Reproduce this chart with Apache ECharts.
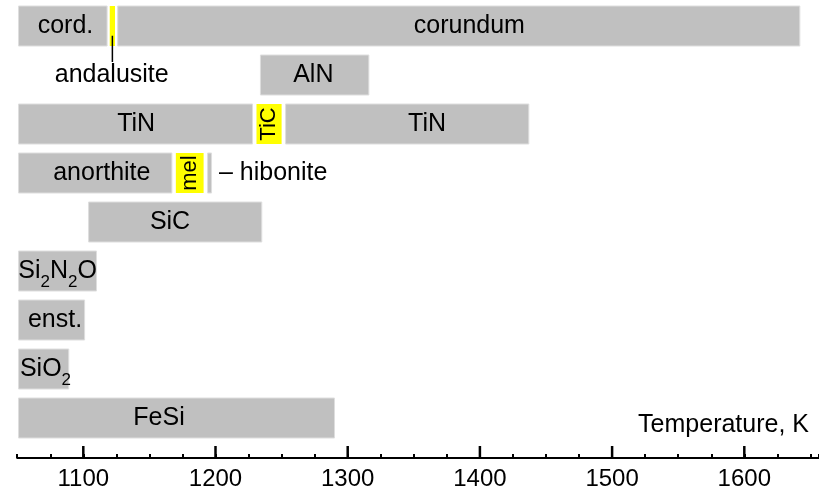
<!DOCTYPE html>
<html>
<head>
<meta charset="utf-8">
<script src="https://cdn.jsdelivr.net/npm/echarts@6/dist/echarts.min.js"></script>
<style>
  html, body { margin: 0; padding: 0; background: #fff; }
  #chart { width: 819px; height: 499px; }
</style>
</head>
<body>
<div id="chart"></div>
<script>
// Temperature ranges (K) over which each phase is stable, by row from the top
const phaseNames = ['cord.', 'andalusite', 'corundum', 'AlN', 'TiN', 'TiC', 'TiN', 'anorthite', 'mel', 'hibonite', 'SiC', 'Si2N2O', 'enst.', 'SiO2', 'FeSi'];
const phaseRows  = [0, 0, 0, 1, 2, 2, 2, 3, 3, 3, 4, 5, 6, 7, 8];
const phaseFrom  = [1051, 1120, 1126, 1234, 1051, 1231, 1253, 1051, 1170, 1194, 1104, 1051, 1051, 1051, 1051];
const phaseTo    = [1118, 1124, 1642, 1316, 1228, 1250, 1437, 1167, 1191, 1197, 1235, 1110, 1101, 1089, 1290];
// Phases drawn as narrow highlighted stripes
const accentPhases = ['andalusite', 'TiC', 'mel'];

// Text annotations: text, row, and the temperature they sit at
const noteTexts = ['cord.', 'corundum', 'andalusite', 'AlN', 'TiN', 'TiC', 'TiN', 'anorthite', 'mel', '– hibonite', 'SiC', 'Si2N2O', 'enst.', 'SiO2', 'FeSi'];
const noteRows  = [0, 0, 1, 1, 2, 2, 2, 3, 3, 3, 4, 5, 6, 7, 8];
const noteTemps = [1086.5, 1392, 1121.5, 1274, 1140, 1240.6, 1360, 1114, 1180.3, 1202.6, 1165.6, 1080.5, 1078.6, 1071.4, 1157.3];
const verticalNotes = ['TiC', 'mel'];
const trailingNotes = ['– hibonite'];

// Leader from the andalusite stripe down to its label: [temperature, row]
const leaderLine = [[1122, 0.2], [1122, 0.735]];

// Axis: full range, minor step, and the labelled major ticks
const tempMin = 1050, tempMax = 1656.5;
const minorStep = 25;
const tickLabels = [1100, 1200, 1300, 1400, 1500, 1600];
const axisTitle = 'Temperature, K';

const FONT = "'Liberation Sans', Arial, Helvetica, sans-serif";
const GRAY = '#c0c0c0';
const YELLOW = '#ffff00';
const INK = '#000';

// Vertical layout: 49 px per row, bars 40 px tall, axis line a little below the last row
const rowPx = 49, barPx = 40, axisGapPx = 15.5, plotTop = 1.5;
const rowMin = -0.5, rowMax = 8.5 + axisGapPx / rowPx;
const plotHeight = (rowMax - rowMin) * rowPx;

const barData = phaseNames.map((n, i) => [phaseRows[i], phaseFrom[i], phaseTo[i], accentPhases.includes(n) ? 1 : 0]);

function richText(t) {
  // digits become subscripts
  return t.replace(/(\D+)|(\d+)/g, (m, a, d) => a ? '{n|' + a + '}' : '{s|' + d + '}');
}

const noteData = noteTexts.map((t, i) => {
  const item = { value: [noteTemps[i], noteRows[i]], label: {} };
  item.label.formatter = /\d/.test(t) ? richText(t) : t;
  if (verticalNotes.includes(t)) { item.label.rotate = 90; item.label.fontSize = 22; }
  if (trailingNotes.includes(t)) item.label.align = 'left';
  return item;
});

// Horizontal geometry; the label grid spans exactly the labelled range
const plotLeft = 17.2, plotRight = 819;
const pxPerK = (plotRight - plotLeft) / (tempMax - tempMin);
const majorMin = tickLabels[0], majorMax = tickLabels[tickLabels.length - 1];
const majorStep = tickLabels[1] - tickLabels[0];

const chart = echarts.init(document.getElementById('chart'), null, { renderer: 'canvas' });
chart.setOption({
  animation: false,
  backgroundColor: '#fff',
  textStyle: { fontFamily: FONT },
  title: {
    text: axisTitle, right: 5, top: 408,
    textStyle: { fontFamily: FONT, fontSize: 25, fontWeight: 'normal', color: INK }
  },
  grid: [
    { left: plotLeft, width: plotRight - plotLeft, top: plotTop, height: plotHeight, containLabel: false },
    { left: plotLeft + (majorMin - tempMin) * pxPerK, width: (majorMax - majorMin) * pxPerK, top: plotTop, height: plotHeight, containLabel: false }
  ],
  xAxis: [
    {
      type: 'value', gridIndex: 0, min: tempMin, max: tempMax, interval: minorStep,
      position: 'bottom', splitLine: { show: false },
      axisLine: { show: true, onZero: false, lineStyle: { color: '#000', width: 2 } },
      axisTick: { show: true, inside: true, length: 4, lineStyle: { color: '#000', width: 2 } },
      axisLabel: { show: false }
    },
    {
      type: 'value', gridIndex: 1, min: majorMin, max: majorMax, interval: majorStep,
      position: 'bottom', splitLine: { show: false },
      axisLine: { show: false, onZero: false },
      axisTick: { show: false },
      axisLabel: {
        show: true, margin: 9, fontSize: 24, color: INK, fontFamily: FONT,
        formatter: v => String(v)
      }
    }
  ],
  yAxis: [
    { type: 'value', gridIndex: 0, min: rowMin, max: rowMax, inverse: true, show: false },
    { type: 'value', gridIndex: 1, min: rowMin, max: rowMax, inverse: true, show: false }
  ],
  series: [
    {
      type: 'custom',
      xAxisIndex: 0, yAxisIndex: 0,
      encode: { x: [1, 2], y: 0 },
      data: barData,
      renderItem(params, api) {
        const row = api.value(0);
        const p0 = api.coord([api.value(1), row]);
        const p1 = api.coord([api.value(2), row]);
        const h = api.size([0, 1])[1] * barPx / rowPx;
        const accent = api.value(3) === 1;
        return {
          type: 'rect',
          shape: { x: p0[0], y: p0[1] - h / 2, width: p1[0] - p0[0], height: h },
          style: { fill: accent ? YELLOW : GRAY, stroke: accent ? null : '#dedede', lineWidth: 1 }
        };
      },
      z: 2
    },
    {
      // long major ticks standing on the axis line
      type: 'custom',
      xAxisIndex: 0, yAxisIndex: 0,
      encode: { x: 0, y: 1 },
      data: tickLabels.map(v => [v, rowMax]),
      silent: true,
      clip: false,
      renderItem(params, api) {
        const p = api.coord([api.value(0), api.value(1)]);
        return {
          type: 'line',
          shape: { x1: p[0], y1: p[1], x2: p[0], y2: p[1] - 12 },
          style: { stroke: '#000', lineWidth: 2.5 }
        };
      },
      z: 6
    },
    {
      type: 'line',
      xAxisIndex: 0, yAxisIndex: 0,
      data: leaderLine,
      symbol: 'none',
      lineStyle: { color: '#000', width: 1.5 },
      z: 3
    },
    {
      type: 'scatter',
      xAxisIndex: 0, yAxisIndex: 0,
      data: noteData,
      symbolSize: 1,
      itemStyle: { color: 'rgba(0,0,0,0)', opacity: 1 },
      label: {
        show: true, position: 'inside', fontSize: 25, color: INK, fontFamily: FONT, opacity: 1,
        rich: {
          n: { fontSize: 25, color: INK, fontFamily: FONT, lineHeight: 40 },
          s: { fontSize: 17, color: INK, fontFamily: FONT, lineHeight: 14, verticalAlign: 'bottom' }
        }
      },
      z: 4
    }
  ]
});
</script>
</body>
</html>
